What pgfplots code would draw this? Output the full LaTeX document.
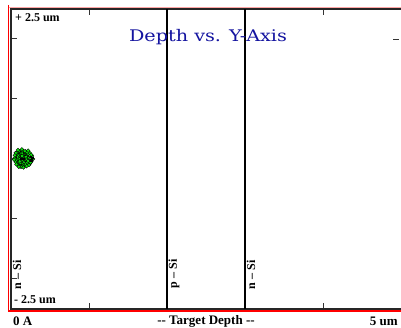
\documentclass[border=0pt]{standalone}
\usepackage{fontspec}
\setmainfont{Liberation Serif}
\newfontfamily\titlefont{DejaVu Serif}
\usepackage{pgfplots}
\pgfplotsset{compat=1.18}
\definecolor{titleblue}{RGB}{20,20,160}
\definecolor{blobgreen}{RGB}{10,230,10}
\definecolor{blobdark}{RGB}{0,150,0}
\begin{document}
\begin{tikzpicture}[x=1pt,y=1pt]
\useasboundingbox[fill=white] (0,0) rectangle (401,328);
\begin{axis}[
  at={(11pt,19pt)}, anchor=south west,
  scale only axis, width=390pt, height=300pt,
  xmin=0, xmax=5, ymin=-2.5, ymax=2.5,
  axis line style={draw=none},
  xtick={1,4}, ytick={-2,-1,0,1,2},
  xtick pos=both, ytick pos=left,
  xticklabels={}, yticklabels={},
  tick align=inside, major tick length=6pt,
  tick style={line width=1pt, black!80},
  clip=false,
]
% frame (left, top, bottom)
\draw[line width=1.3pt, black!85] (rel axis cs:0.999,1) -- (rel axis cs:0,1) -- (rel axis cs:0,0) -- (rel axis cs:0.999,0);
% layer boundaries
\addplot[black, line width=2pt] coordinates {(2,-2.5) (2,2.5)};
\addplot[black, line width=2pt] coordinates {(3,-2.5) (3,2.5)};
% ion distribution
\addplot[only marks, mark=*, mark size=1.9pt, draw=none, fill=blobgreen] coordinates {
(0.05,0.02)(0.06,-0.05)(0.07,0.08)(0.08,-0.02)(0.08,0.11)(0.09,-0.10)(0.10,0.04)(0.10,-0.06)
(0.11,0.13)(0.11,0.00)(0.12,-0.12)(0.12,0.07)(0.13,-0.03)(0.13,0.10)(0.14,0.02)(0.14,-0.08)
(0.15,0.14)(0.15,-0.01)(0.16,0.06)(0.16,-0.11)(0.17,0.03)(0.17,-0.05)(0.18,0.09)(0.18,-0.02)
(0.19,0.12)(0.19,-0.09)(0.20,0.00)(0.20,0.05)(0.21,-0.06)(0.22,0.08)(0.22,-0.03)(0.23,0.02)
(0.24,-0.08)(0.24,0.10)(0.25,0.01)(0.26,-0.04)(0.27,0.05)(0.04,-0.01)(0.06,0.10)(0.09,0.06)
(0.12,-0.07)(0.15,0.09)(0.18,0.13)(0.21,0.11)(0.13,-0.13)(0.10,-0.13)(0.07,-0.09)(0.16,-0.14)
(0.19,0.04)(0.23,-0.10)(0.26,0.07)(0.05,0.06)(0.08,0.03)(0.11,-0.04)(0.14,0.05)(0.17,0.00)
(0.20,-0.12)(0.22,0.14)(0.25,-0.06)(0.28,0.00)(0.14,0.16)(0.09,0.15)};
\addplot[only marks, mark=*, mark size=0.6pt, draw=none, fill=blobdark] coordinates {
(0.07,0.03)(0.10,0.09)(0.13,-0.09)(0.16,0.10)(0.19,-0.04)(0.22,0.05)(0.09,-0.03)(0.18,0.06)(0.24,-0.02)(0.12,0.12)};
\addplot[only marks, mark=square*, mark size=0.6pt, draw=none, fill=red!80!black] coordinates {
(0.12,0.00)(0.14,0.01)(0.16,0.00)};
\addplot[only marks, mark=square*, mark size=0.8pt, draw=none, fill=black] coordinates {
(0.26,-0.02)(0.27,0.02)(0.25,0.04)};
\end{axis}
% red frame
\draw[red, line width=1.3pt] (8.5,323) -- (8.5,17) -- (401,17);
\draw[red!35, line width=0.8pt] (8.5,320.5) -- (401,320.5);
% right-side tick
\draw[line width=1pt, black!80] (393,288.5) -- (398.5,288.5);
% title
\node[font=\titlefont\fontsize{16}{18}\selectfont, text=titleblue, xscale=1.2] at (208,291) {Depth vs. Y-Axis};
% y range labels
\node[font=\fontsize{12}{13}\selectfont\bfseries, anchor=west, inner sep=0pt] at (15,310) {+ 2.5 um};
\node[font=\fontsize{12}{13}\selectfont\bfseries, anchor=west, inner sep=0pt] at (14,28) {- 2.5 um};
% bottom labels
\node[font=\fontsize{13}{14}\selectfont\bfseries, anchor=west, inner sep=0pt] at (13,6.5) {0 A};
\node[font=\fontsize{13}{14}\selectfont\bfseries, inner sep=0pt] at (206,6.5) {{-}{-} Target Depth {-}{-}};
\node[font=\fontsize{13}{14}\selectfont\bfseries, anchor=east, inner sep=0pt] at (398,6.5) {5 um};
% layer names
\node[font=\fontsize{12}{13}\selectfont\bfseries, rotate=90, inner sep=0pt] at (17,53) {n -- Si};
\node[font=\fontsize{12}{13}\selectfont\bfseries, rotate=90, inner sep=0pt] at (174,54) {p -- Si};
\node[font=\fontsize{12}{13}\selectfont\bfseries, rotate=90, inner sep=0pt] at (251,53) {n -- Si};
\end{tikzpicture}
\end{document}
